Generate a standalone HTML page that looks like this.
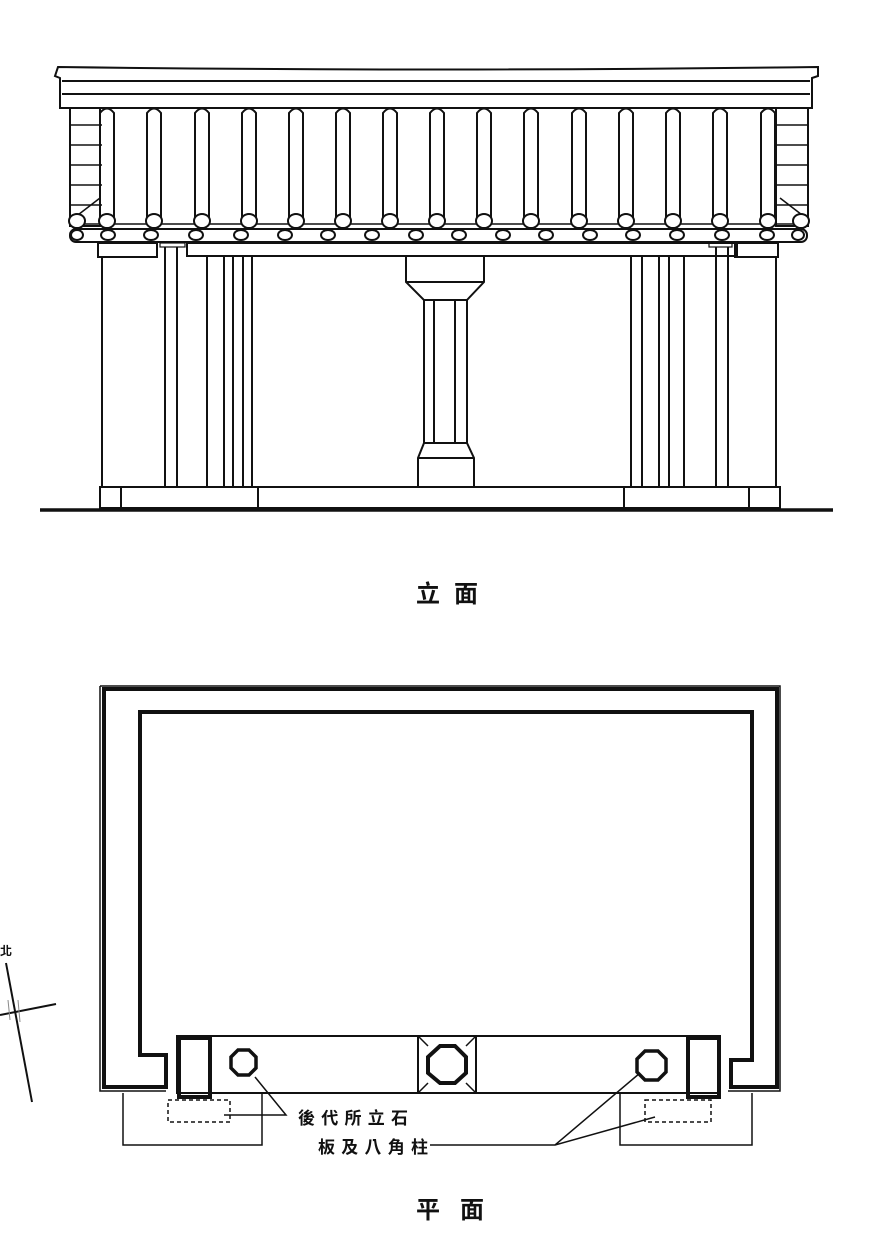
<!DOCTYPE html>
<html><head><meta charset="utf-8"><style>
html,body{margin:0;padding:0;background:#fff;}
svg{display:block}
text{font-family:"Liberation Sans","Noto Sans CJK TC",sans-serif;fill:#111;font-weight:bold}
</style></head><body>
<svg width="870" height="1246" viewBox="0 0 870 1246" xmlns="http://www.w3.org/2000/svg">
<g stroke="#111" stroke-width="2" fill="none">
<!-- roof board -->
<path d="M58,67 Q440,72 818,67 L818,76 L812,78 L812,108 L60,108 L60,78 L55,76 Z" fill="#fff"/>
<line x1="62" y1="81" x2="810" y2="81"/>
<line x1="62" y1="94" x2="810" y2="94"/>
<!-- side stacks -->
<rect x="70" y="108" width="30" height="118"/>
<rect x="776" y="108" width="32" height="118"/>
<g stroke-width="1.5">
<line x1="70" y1="125" x2="102" y2="125"/><line x1="70" y1="145" x2="102" y2="145"/><line x1="70" y1="165" x2="102" y2="165"/><line x1="70" y1="185" x2="102" y2="185"/><line x1="70" y1="205" x2="102" y2="205"/>
<line x1="776" y1="125" x2="808" y2="125"/><line x1="776" y1="145" x2="808" y2="145"/><line x1="776" y1="165" x2="808" y2="165"/><line x1="776" y1="185" x2="808" y2="185"/><line x1="776" y1="205" x2="808" y2="205"/>
<line x1="74" y1="218" x2="100" y2="198"/><line x1="806" y1="218" x2="780" y2="198"/>
</g>
<!-- rafter bars -->
<g id="rafters">
<path d="M100,220 L100,113 Q107,104 114,113 L114,220"/>
<path d="M147,220 L147,113 Q154,104 161,113 L161,220"/>
<path d="M195,220 L195,113 Q202,104 209,113 L209,220"/>
<path d="M242,220 L242,113 Q249,104 256,113 L256,220"/>
<path d="M289,220 L289,113 Q296,104 303,113 L303,220"/>
<path d="M336,220 L336,113 Q343,104 350,113 L350,220"/>
<path d="M383,220 L383,113 Q390,104 397,113 L397,220"/>
<path d="M430,220 L430,113 Q437,104 444,113 L444,220"/>
<path d="M477,220 L477,113 Q484,104 491,113 L491,220"/>
<path d="M524,220 L524,113 Q531,104 538,113 L538,220"/>
<path d="M572,220 L572,113 Q579,104 586,113 L586,220"/>
<path d="M619,220 L619,113 Q626,104 633,113 L633,220"/>
<path d="M666,220 L666,113 Q673,104 680,113 L680,220"/>
<path d="M713,220 L713,113 Q720,104 727,113 L727,220"/>
<path d="M761,220 L761,113 Q768,104 775,113 L775,220"/>
</g>
<!-- scalloped eave line -->
<path d="M70,224 L806,224" stroke-width="1.5"/>
<g fill="#fff">
<ellipse cx="77" cy="221" rx="8" ry="7"/><ellipse cx="107" cy="221" rx="8" ry="7"/><ellipse cx="154" cy="221" rx="8" ry="7"/><ellipse cx="202" cy="221" rx="8" ry="7"/><ellipse cx="249" cy="221" rx="8" ry="7"/><ellipse cx="296" cy="221" rx="8" ry="7"/><ellipse cx="343" cy="221" rx="8" ry="7"/><ellipse cx="390" cy="221" rx="8" ry="7"/><ellipse cx="437" cy="221" rx="8" ry="7"/><ellipse cx="484" cy="221" rx="8" ry="7"/><ellipse cx="531" cy="221" rx="8" ry="7"/><ellipse cx="579" cy="221" rx="8" ry="7"/><ellipse cx="626" cy="221" rx="8" ry="7"/><ellipse cx="673" cy="221" rx="8" ry="7"/><ellipse cx="720" cy="221" rx="8" ry="7"/><ellipse cx="768" cy="221" rx="8" ry="7"/><ellipse cx="801" cy="221" rx="8" ry="7"/>
</g>
<!-- band with ovals -->
<rect x="70" y="229" width="737" height="13" rx="6" fill="#fff"/>
<g fill="#fff">
<ellipse cx="77" cy="235" rx="6" ry="5"/><ellipse cx="108" cy="235" rx="7" ry="5"/><ellipse cx="151" cy="235" rx="7" ry="5"/><ellipse cx="196" cy="235" rx="7" ry="5"/><ellipse cx="241" cy="235" rx="7" ry="5"/><ellipse cx="285" cy="235" rx="7" ry="5"/><ellipse cx="328" cy="235" rx="7" ry="5"/><ellipse cx="372" cy="235" rx="7" ry="5"/><ellipse cx="416" cy="235" rx="7" ry="5"/><ellipse cx="459" cy="235" rx="7" ry="5"/><ellipse cx="503" cy="235" rx="7" ry="5"/><ellipse cx="546" cy="235" rx="7" ry="5"/><ellipse cx="590" cy="235" rx="7" ry="5"/><ellipse cx="633" cy="235" rx="7" ry="5"/><ellipse cx="677" cy="235" rx="7" ry="5"/><ellipse cx="722" cy="235" rx="7" ry="5"/><ellipse cx="767" cy="235" rx="7" ry="5"/><ellipse cx="798" cy="235" rx="6" ry="5"/>
</g>
<!-- lintels / blocks -->
<rect x="98" y="243" width="59" height="14"/>
<rect x="187" y="243" width="550" height="13"/>
<rect x="735" y="243" width="43" height="14"/>
<rect x="160" y="243" width="25" height="4" stroke-width="1.2"/>
<rect x="709" y="243" width="23" height="4" stroke-width="1.2"/>
<!-- left side -->
<line x1="102" y1="257" x2="102" y2="487"/>
<line x1="165" y1="247" x2="165" y2="487"/><line x1="177" y1="247" x2="177" y2="487"/>
<line x1="207" y1="256" x2="207" y2="487"/><line x1="224" y1="256" x2="224" y2="487"/><line x1="233" y1="256" x2="233" y2="487"/><line x1="243" y1="256" x2="243" y2="487"/><line x1="252" y1="256" x2="252" y2="487"/>
<!-- right side -->
<line x1="631" y1="256" x2="631" y2="487"/><line x1="642" y1="256" x2="642" y2="487"/><line x1="659" y1="256" x2="659" y2="487"/><line x1="669" y1="256" x2="669" y2="487"/><line x1="684" y1="256" x2="684" y2="487"/>
<line x1="716" y1="247" x2="716" y2="487"/><line x1="728" y1="247" x2="728" y2="487"/>
<line x1="776" y1="257" x2="776" y2="487"/>
<!-- center column -->
<path d="M406,256 L406,282 L424,300 L424,443 L418,458 L418,487 L474,487 L474,458 L467,443 L467,300 L484,282 L484,256"/>
<line x1="406" y1="282" x2="484" y2="282"/>
<line x1="424" y1="300" x2="467" y2="300"/>
<line x1="434" y1="300" x2="434" y2="443"/><line x1="455" y1="300" x2="455" y2="443"/>
<line x1="424" y1="443" x2="467" y2="443"/>
<line x1="418" y1="458" x2="474" y2="458"/>
<!-- plinth -->
<rect x="100" y="487" width="680" height="21"/>
<line x1="121" y1="487" x2="121" y2="508"/><line x1="258" y1="487" x2="258" y2="508"/><line x1="624" y1="487" x2="624" y2="508"/><line x1="749" y1="487" x2="749" y2="508"/>
<line x1="40" y1="510" x2="833" y2="510" stroke-width="3.5"/>

<!-- PLAN -->
<path d="M100,686 L780,686 L780,1091 L728,1091 M100,686 L100,1091 L166,1091" stroke-width="1.5"/>
<path d="M104,689 L777,689 L777,1087 L731,1087 L731,1060 L752,1060 L752,712 L140,712 L140,1055 L166,1055 L166,1087 L104,1087 Z" stroke-width="4"/>
<rect x="177" y="1036" width="543" height="57" stroke-width="2"/>
<rect x="179" y="1038" width="31" height="59" stroke-width="4"/>
<rect x="688" y="1038" width="31" height="59" stroke-width="4"/>
<rect x="418" y="1036" width="58" height="57" stroke-width="2"/>
<path d="M418,1036 L428,1046 M476,1036 L466,1046 M418,1093 L428,1083 M476,1093 L466,1083" stroke-width="1.5"/>
<polygon points="440,1046 455,1046 466,1057 466,1073 455,1083 440,1083 428,1073 428,1057" stroke-width="4"/>
<polygon points="238,1050 249,1050 256,1057 256,1068 249,1075 238,1075 231,1068 231,1057" stroke-width="3.5"/>
<polygon points="645,1051 658,1051 666,1059 666,1072 658,1080 645,1080 637,1072 637,1059" stroke-width="3.5"/>
<path d="M123,1093 L123,1145 L262,1145 L262,1093" stroke-width="1.5"/>
<path d="M620,1093 L620,1145 L752,1145 L752,1093" stroke-width="1.5"/>
<rect x="168" y="1100" width="62" height="22" stroke-dasharray="4,3" stroke-width="1.5"/>
<rect x="645" y="1100" width="66" height="22" stroke-dasharray="4,3" stroke-width="1.5"/>
<path d="M255,1077 L286,1115 L224,1115" stroke-width="1.5"/>
<path d="M430,1145 L555,1145 L640,1073 M555,1145 L655,1117" stroke-width="1.5"/>
<!-- compass -->
<line x1="6" y1="963" x2="32" y2="1102" stroke-width="2"/>
<line x1="0" y1="1015" x2="56" y2="1004" stroke-width="2"/>
<path d="M8,1000 L10,1020 M18,1000 L20,1022" stroke-width="1" stroke="#888"/>
</g>
<text x="416" y="602" font-size="24" textLength="62">立 面</text>
<text x="416" y="1218" font-size="24" textLength="68">平 面</text>
<text x="298" y="1124" font-size="17" textLength="110">後代所立石</text>
<text x="318" y="1153" font-size="17" textLength="110">板及八角柱</text>
<text x="0" y="955" font-size="12">北</text>
</svg>
</body></html>
